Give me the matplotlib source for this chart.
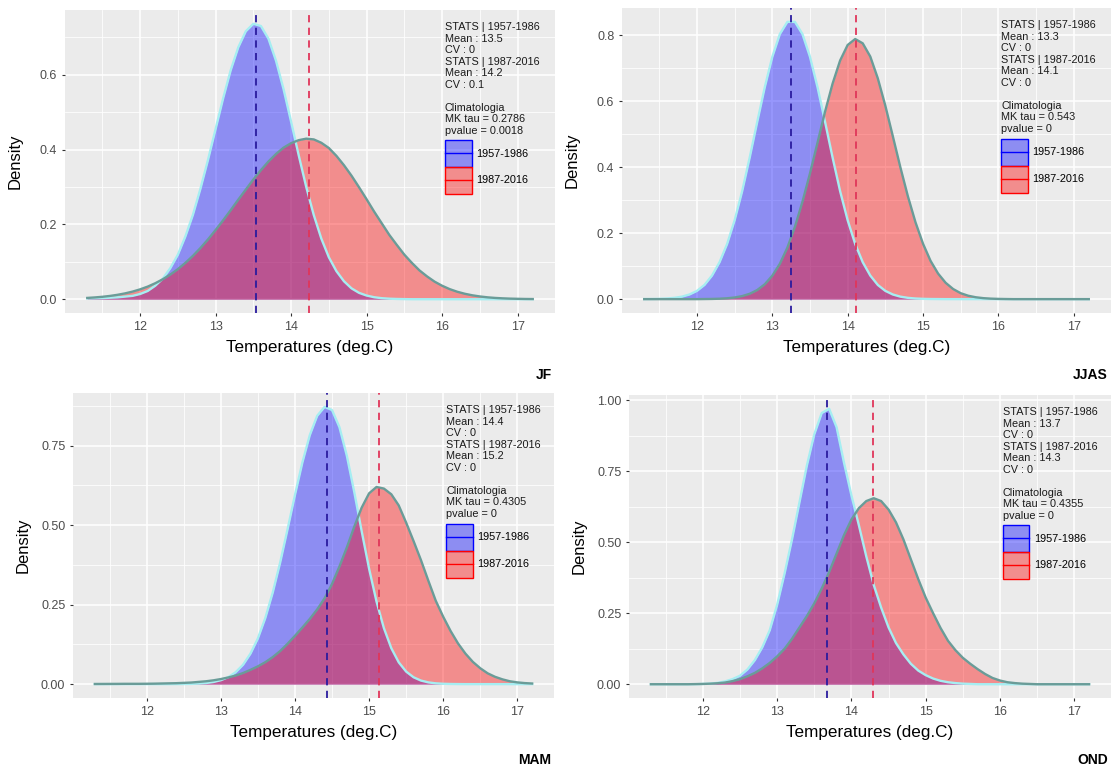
import matplotlib.pyplot as plt
from matplotlib.lines import Line2D
from matplotlib.patches import Patch, Rectangle
from matplotlib.legend_handler import HandlerBase

plt.rcParams['font.family'] = ['Liberation Sans', 'DejaVu Sans']

temps = [11.3, 11.4, 11.5, 11.6, 11.7, 11.8, 11.9, 12.0, 12.1, 12.2,
         12.3, 12.4, 12.5, 12.6, 12.7, 12.8, 12.9, 13.0, 13.1, 13.2,
         13.3, 13.4, 13.5, 13.6, 13.7, 13.8, 13.9, 14.0, 14.1, 14.2,
         14.3, 14.4, 14.5, 14.6, 14.7, 14.8, 14.9, 15.0, 15.1, 15.2,
         15.3, 15.4, 15.5, 15.6, 15.7, 15.8, 15.9, 16.0, 16.1, 16.2,
         16.3, 16.4, 16.5, 16.6, 16.7, 16.8, 16.9, 17.0, 17.1, 17.2]

jf_early = [0.002, 0.0025, 0.003, 0.004, 0.005, 0.007, 0.009, 0.014, 0.022, 0.036,
            0.055, 0.083, 0.119, 0.168, 0.226, 0.296, 0.373, 0.455, 0.537, 0.612,
            0.673, 0.716, 0.736, 0.730, 0.696, 0.637, 0.561, 0.474, 0.385, 0.300,
            0.225, 0.162, 0.112, 0.075, 0.048, 0.029, 0.017, 0.0098, 0.0053, 0.0028,
            0.0014, 0.0007, 0.0003, 0, 0, 0, 0, 0, 0, 0,
            0, 0, 0, 0, 0, 0, 0, 0, 0, 0]
jf_late = [0.0035, 0.0048, 0.0065, 0.0088, 0.0118, 0.0156, 0.0204, 0.0264, 0.0337, 0.0427,
           0.0533, 0.0659, 0.0804, 0.0972, 0.116, 0.137, 0.160, 0.185, 0.211, 0.238,
           0.266, 0.293, 0.320, 0.345, 0.368, 0.388, 0.405, 0.417, 0.425, 0.429,
           0.427, 0.418, 0.404, 0.383, 0.358, 0.330, 0.299, 0.267, 0.234, 0.203,
           0.172, 0.145, 0.119, 0.097, 0.077, 0.061, 0.047, 0.036, 0.027, 0.020,
           0.0146, 0.0105, 0.0074, 0.0051, 0.0035, 0.0024, 0.0016, 0.0011, 0.0007, 0.0005]
jjas_early = [0.0002, 0.0004, 0.0009, 0.0019, 0.0039, 0.0075, 0.014, 0.025, 0.043, 0.0715,
              0.112, 0.167, 0.239, 0.327, 0.429, 0.537, 0.642, 0.734, 0.803, 0.840,
              0.840, 0.803, 0.734, 0.642, 0.537, 0.429, 0.327, 0.239, 0.167, 0.112,
              0.0715, 0.043, 0.025, 0.014, 0.0075, 0.0039, 0.0019, 0.0009, 0.0004, 0.0002,
              0, 0, 0, 0, 0, 0, 0, 0, 0, 0,
              0, 0, 0, 0, 0, 0, 0, 0, 0, 0]
jjas_late = [0, 0, 0, 0, 0, 0, 0, 0, 0.0003, 0.0006,
             0.0013, 0.0026, 0.005, 0.0092, 0.0162, 0.0276, 0.045, 0.071, 0.107, 0.156,
             0.219, 0.295, 0.381, 0.474, 0.568, 0.653, 0.723, 0.770, 0.788, 0.775,
             0.735, 0.669, 0.586, 0.493, 0.399, 0.311, 0.233, 0.168, 0.116, 0.0775,
             0.0496, 0.0306, 0.018, 0.0103, 0.0057, 0.003, 0.0015, 0.0007, 0.0003, 0,
             0, 0, 0, 0, 0, 0, 0, 0, 0, 0]
mam_early = [0, 0, 0, 0, 0, 0, 0, 0, 0, 0,
             0, 0.0002, 0.0004, 0.0008, 0.0017, 0.0035, 0.0067, 0.0124, 0.022, 0.0375,
             0.061, 0.096, 0.144, 0.208, 0.288, 0.382, 0.487, 0.595, 0.697, 0.783,
             0.844, 0.872, 0.862, 0.808, 0.718, 0.604, 0.481, 0.363, 0.260, 0.176,
             0.113, 0.0686, 0.0395, 0.0216, 0.0112, 0.0055, 0.0025, 0.0011, 0.0005, 0.0002,
             0, 0, 0, 0, 0, 0, 0, 0, 0, 0]
mam_late = [0.0005, 0.0006, 0.0007, 0.0008, 0.001, 0.001, 0.001, 0.0012, 0.0015, 0.002,
            0.0025, 0.003, 0.004, 0.005, 0.007, 0.009, 0.012, 0.016, 0.021, 0.027,
            0.035, 0.045, 0.056, 0.069, 0.085, 0.104, 0.127, 0.152, 0.178, 0.205,
            0.235, 0.27, 0.315, 0.37, 0.43, 0.495, 0.555, 0.60, 0.62, 0.615,
            0.597, 0.562, 0.508, 0.45, 0.39, 0.325, 0.262, 0.212, 0.167, 0.128,
            0.096, 0.07, 0.05, 0.034, 0.023, 0.015, 0.009, 0.0055, 0.0033, 0.002]
ond_early = [0, 0, 0, 0, 0, 0, 0, 0.001, 0.002, 0.005,
             0.01, 0.018, 0.03, 0.052, 0.085, 0.13, 0.19, 0.28, 0.39, 0.51,
             0.64, 0.77, 0.88, 0.955, 0.97, 0.905, 0.78, 0.665, 0.56, 0.45,
             0.35, 0.27, 0.20, 0.145, 0.105, 0.072, 0.048, 0.032, 0.02, 0.012,
             0.007, 0.004, 0.002, 0.001, 0, 0, 0, 0, 0, 0,
             0, 0, 0, 0, 0, 0, 0, 0, 0, 0]
ond_late = [0, 0, 0, 0, 0, 0, 0.0005, 0.001, 0.002, 0.0035,
            0.006, 0.011, 0.018, 0.028, 0.04, 0.056, 0.075, 0.098, 0.125, 0.16,
            0.20, 0.24, 0.285, 0.337, 0.395, 0.46, 0.525, 0.58, 0.62, 0.645,
            0.655, 0.645, 0.615, 0.57, 0.51, 0.44, 0.37, 0.305, 0.25, 0.198,
            0.153, 0.12, 0.093, 0.072, 0.053, 0.036, 0.022, 0.013, 0.007, 0.004,
            0.002, 0.001, 0, 0, 0, 0, 0, 0, 0, 0]

seasons = ['JF', 'JJAS', 'MAM', 'OND']
early_sets = [jf_early, jjas_early, mam_early, ond_early]
late_sets = [jf_late, jjas_late, mam_late, ond_late]
mean_early = [13.53, 13.25, 14.43, 13.665]
mean_late = [14.24, 14.11, 15.14, 14.285]

stat_mean_early = ['13.5', '13.3', '14.4', '13.7']
stat_mean_late = ['14.2', '14.1', '15.2', '14.3']
stat_cv_early = ['0', '0', '0', '0']
stat_cv_late = ['0.1', '0', '0', '0']
mk_tau = ['0.2786', '0.543', '0.4305', '0.4355']
pvalue = ['0.0018', '0', '0', '0']

x_ticks = [12, 13, 14, 15, 16, 17]
y_ticks = [[0.0, 0.2, 0.4, 0.6], [0.0, 0.2, 0.4, 0.6, 0.8],
           [0.0, 0.25, 0.5, 0.75], [0.0, 0.25, 0.5, 0.75, 1.0]]
y_ticklabels = [['0.0', '0.2', '0.4', '0.6'], ['0.0', '0.2', '0.4', '0.6', '0.8'],
                ['0.00', '0.25', '0.50', '0.75'], ['0.00', '0.25', '0.50', '0.75', '1.00']]
periods = ['1957-1986', '1987-2016']


class BoxLineHandler(HandlerBase):
    # ggplot-like key: filled square with a line across the middle
    def create_artists(self, legend, orig_handle, xdescent, ydescent,
                       width, height, fontsize, trans):
        ec = orig_handle.get_edgecolor()
        rect = Rectangle((-xdescent, -ydescent), width, height,
                         facecolor=orig_handle.get_facecolor(), edgecolor=ec,
                         lw=1, transform=trans)
        line = Line2D([-xdescent, -xdescent + width],
                      [-ydescent + height / 2] * 2, color=ec, lw=1, transform=trans)
        return [rect, line]


W, H = 1114, 768
fig = plt.figure(figsize=(W / 100, H / 100), dpi=100)

# panel boxes in pixels: left, top, right, bottom
boxes = [(65, 10, 555, 313), (622, 8, 1111, 313),
         (73, 393, 554, 698), (629, 395, 1111, 698)]

xr = max(temps) - min(temps)
xlim = (min(temps) - 0.05 * xr, max(temps) + 0.05 * xr)

for i, season in enumerate(seasons):
    l, t, r, b = boxes[i]
    ax = fig.add_axes([l / W, 1 - b / H, (r - l) / W, (b - t) / H])
    ax.set_facecolor('#EBEBEB')
    for s in ax.spines.values():
        s.set_visible(False)

    early = early_sets[i]
    late = late_sets[i]
    ax.fill_between(temps, early, color='blue', alpha=0.4, lw=0)
    ax.plot(temps, early, color='#A6EEF2', lw=1.7)
    ax.fill_between(temps, late, color='red', alpha=0.4, lw=0)
    ax.plot(temps, late, color='#6A9C98', lw=1.7)
    ax.axvline(mean_early[i], color='#2A1B9E', ls=(0, (4, 3)), lw=1.3)
    ax.axvline(mean_late[i], color='#E0365A', ls=(0, (4, 3)), lw=1.3)

    yt = y_ticks[i]
    step = yt[1] - yt[0]
    ax.set_xticks(x_ticks)
    ax.set_xticks([v + 0.5 for v in [11] + x_ticks], minor=True)
    ax.set_yticks(yt)
    ax.set_yticklabels(y_ticklabels[i])
    ax.set_yticks([v + step / 2 for v in yt], minor=True)

    top = max(max(early), max(late))
    ax.set_xlim(*xlim)
    ax.set_ylim(-0.05 * top, 1.05 * top)

    ax.grid(which='major', color='white', lw=1.1)
    ax.grid(which='minor', color='white', lw=0.55)
    ax.set_axisbelow(True)
    ax.tick_params(which='major', length=2.5, width=0.8, color='#333333',
                   labelcolor='#4D4D4D', labelsize=9, pad=3)
    ax.tick_params(which='minor', length=0)

    ax.set_xlabel('Temperatures (deg.C)', fontsize=12.3, labelpad=5)
    ax.set_ylabel('Density', fontsize=12)
    ax.yaxis.set_label_coords(-42 / (r - l), 0.5)

    txt = ('STATS | 1957-1986\nMean : %s\nCV : %s\nSTATS | 1987-2016\nMean : %s\nCV : %s\n\n'
           'Climatologia\nMK tau = %s\npvalue = %s') % (
        stat_mean_early[i], stat_cv_early[i], stat_mean_late[i], stat_cv_late[i],
        mk_tau[i], pvalue[i])
    ax.text(0.7755, 0.96, txt, transform=ax.transAxes, ha='left', va='top',
            fontsize=7.8, linespacing=1.19, color='#1A1A1A')

    handles = [Patch(facecolor=(0, 0, 1, 0.4), edgecolor='blue'),
               Patch(facecolor=(1, 0, 0, 0.4), edgecolor='red')]
    ax.legend(handles, periods, handler_map={Patch: BoxLineHandler()},
              loc='upper left', bbox_to_anchor=(0.7755, 0.571), frameon=False,
              fontsize=7.8, handlelength=2.45, handleheight=3.45, labelspacing=0,
              borderpad=0, borderaxespad=0, handletextpad=0.4)

    fig.text((r - 3) / W, 1 - (b + 62) / H, season, ha='right', va='center',
             fontsize=10, fontweight='bold')

fig.savefig('out.png', dpi=100)
